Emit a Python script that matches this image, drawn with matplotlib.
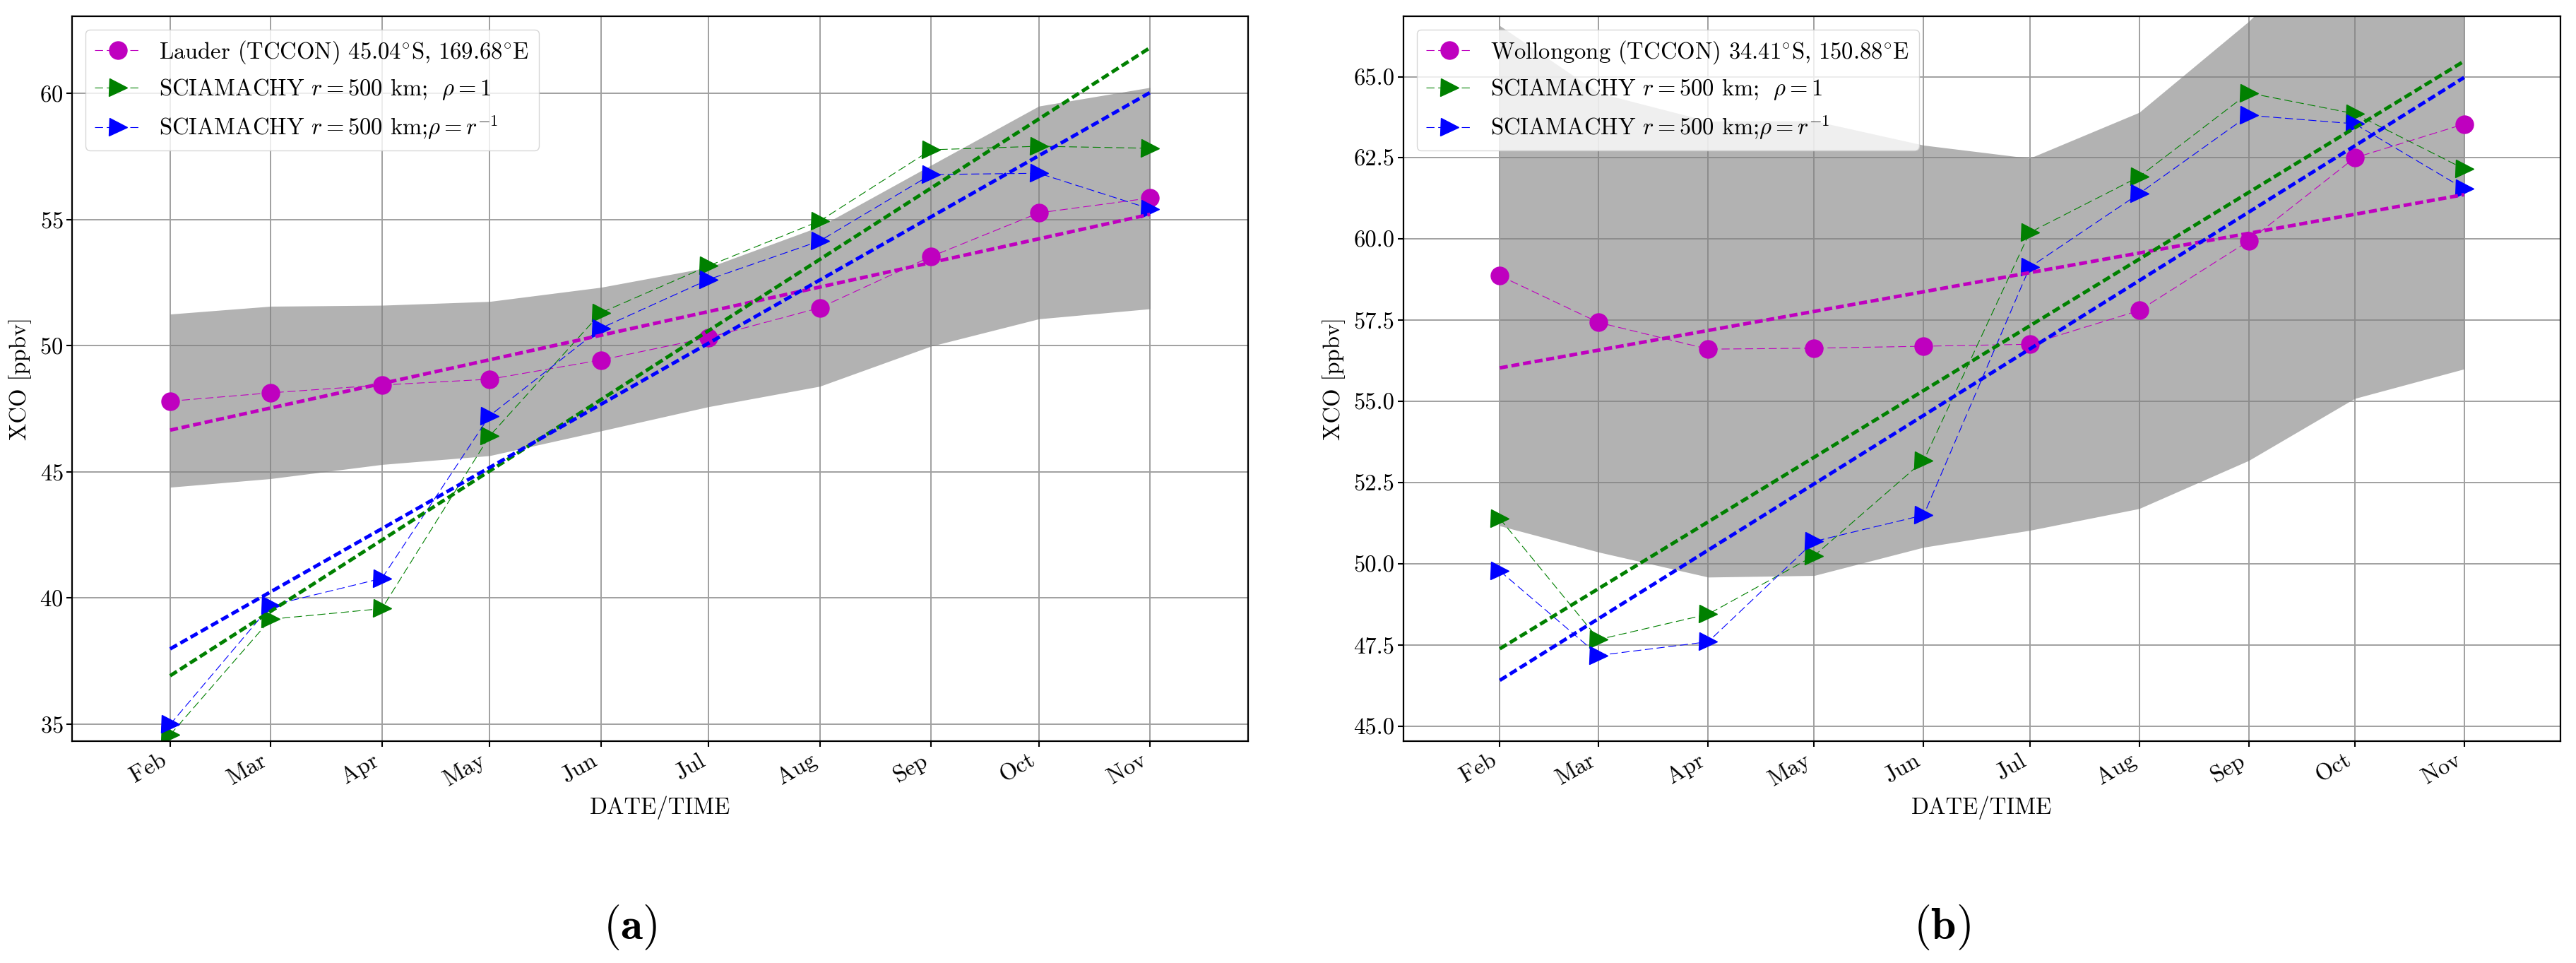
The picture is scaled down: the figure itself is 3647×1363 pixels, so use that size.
import datetime as dt

import matplotlib
matplotlib.use("Agg")
import matplotlib.dates as mdates
import matplotlib.pyplot as plt
import numpy as np

# monthly dates (first of month)
months = [2, 3, 4, 5, 6, 7, 8, 9, 10, 11]
year = 2009

# (a) Lauder
lauder_tccon = [47.80, 48.13, 48.44, 48.67, 49.43, 50.32, 51.50, 53.53, 55.26, 55.85]
lauder_lower = [44.39, 44.73, 45.29, 45.64, 46.62, 47.58, 48.39, 49.98, 51.06, 51.46]
lauder_upper = [51.25, 51.56, 51.60, 51.75, 52.31, 53.10, 54.72, 57.15, 59.49, 60.23]
lauder_rho1 = [34.58, 39.16, 39.58, 46.42, 51.30, 53.16, 54.94, 57.76, 57.90, 57.82]
lauder_rinv = [34.99, 39.70, 40.78, 47.22, 50.69, 52.62, 54.15, 56.78, 56.83, 55.42]

# (b) Wollongong
woll_tccon = [58.87, 57.43, 56.61, 56.64, 56.70, 56.76, 57.80, 59.94, 62.50, 63.54]
woll_lower = [51.17, 50.36, 49.59, 49.64, 50.51, 51.03, 51.70, 53.18, 55.09, 56.00]
woll_upper = [66.57, 64.50, 63.63, 63.64, 62.89, 62.49, 63.90, 66.70, 69.91, 71.08]
woll_rho1 = [51.39, 47.67, 48.45, 50.25, 53.18, 60.20, 61.92, 64.50, 63.86, 62.16]
woll_rinv = [49.78, 47.18, 47.60, 50.69, 51.50, 59.13, 61.40, 63.81, 63.55, 61.55]

lauder_label = r"Lauder (TCCON) 45.04$^{\circ}$S, 169.68$^{\circ}$E"
woll_label = r"Wollongong (TCCON) 34.41$^{\circ}$S, 150.88$^{\circ}$E"
label_rho1 = r"SCIAMACHY $r = 500$ km; $\ \rho = 1$"
label_rinv = r"SCIAMACHY $r = 500$ km;$\rho = r^{-1}$"

plt.rcParams["font.family"] = ["cmr10", "DejaVu Serif"]
plt.rcParams["mathtext.fontset"] = "cm"
plt.rcParams["axes.formatter.use_mathtext"] = True
plt.rcParams["axes.unicode_minus"] = False
plt.rcParams["lines.scale_dashes"] = False

FS = 23.5
dash = (0, (8.2, 3.8))

dates = [dt.datetime(year, m, 1) for m in months]
xnum = mdates.date2num(dates)


def panel(ax, tccon, lower, upper, rho1, rinv, site_label, ylim):
    ax.fill_between(dates, lower, upper, color="gray", alpha=0.6, linewidth=0)
    ax.plot(dates, tccon, color="m", marker="o", markersize=18, linestyle=dash,
            linewidth=0.8, label=site_label)
    ax.plot(dates, rho1, color="g", marker=">", markersize=18, linestyle=dash,
            linewidth=0.8, label=label_rho1)
    ax.plot(dates, rinv, color="b", marker=">", markersize=18, linestyle=dash,
            linewidth=0.8, label=label_rinv)
    # linear trends
    for vals, col in [(tccon, "m"), (rho1, "g"), (rinv, "b")]:
        k, c = np.polyfit(xnum, vals, 1)
        ax.plot(dates, k * xnum + c, color=col, linestyle=dash, linewidth=3.6)

    span = xnum[-1] - xnum[0]
    ax.set_xlim(xnum[0] - 0.1 * span, xnum[-1] + 0.1 * span)
    ax.set_ylim(*ylim)
    ax.xaxis.set_major_locator(mdates.MonthLocator(bymonth=months))
    ax.xaxis.set_major_formatter(mdates.DateFormatter("%b"))
    for lab in ax.get_xticklabels():
        lab.set_rotation(30)
        lab.set_ha("right")
    ax.set_axisbelow(True)
    ax.grid(True, color="#a0a0a0", linewidth=1.4)
    ax.tick_params(labelsize=FS, length=5.5, width=1.5)
    for s in ax.spines.values():
        s.set_linewidth(1.6)
    ax.set_xlabel("DATE/TIME", fontsize=FS, labelpad=6)
    ax.set_ylabel("XCO [ppbv]", fontsize=FS, labelpad=8)
    ax.legend(loc="upper left", fontsize=FS, borderaxespad=0.58)


fig = plt.figure(figsize=(36.47, 13.63), dpi=100)
ax1 = fig.add_axes([0.0280, 0.2304, 0.4565, 0.7527])
ax2 = fig.add_axes([0.5448, 0.2304, 0.4492, 0.7527])

panel(ax1, lauder_tccon, lauder_lower, lauder_upper, lauder_rho1, lauder_rinv,
      lauder_label, (34.33, 63.05))
panel(ax2, woll_tccon, woll_lower, woll_upper, woll_rho1, woll_rinv,
      woll_label, (44.54, 66.86))
ax2.yaxis.set_major_formatter(matplotlib.ticker.FormatStrFormatter("%.1f"))

fig.text(0.2446, 0.0374, r"$(\mathbf{a})$", ha="center", va="center", fontsize=46)
fig.text(0.754, 0.0374, r"$(\mathbf{b})$", ha="center", va="center", fontsize=46)

fig.savefig("out.png", dpi=100)
